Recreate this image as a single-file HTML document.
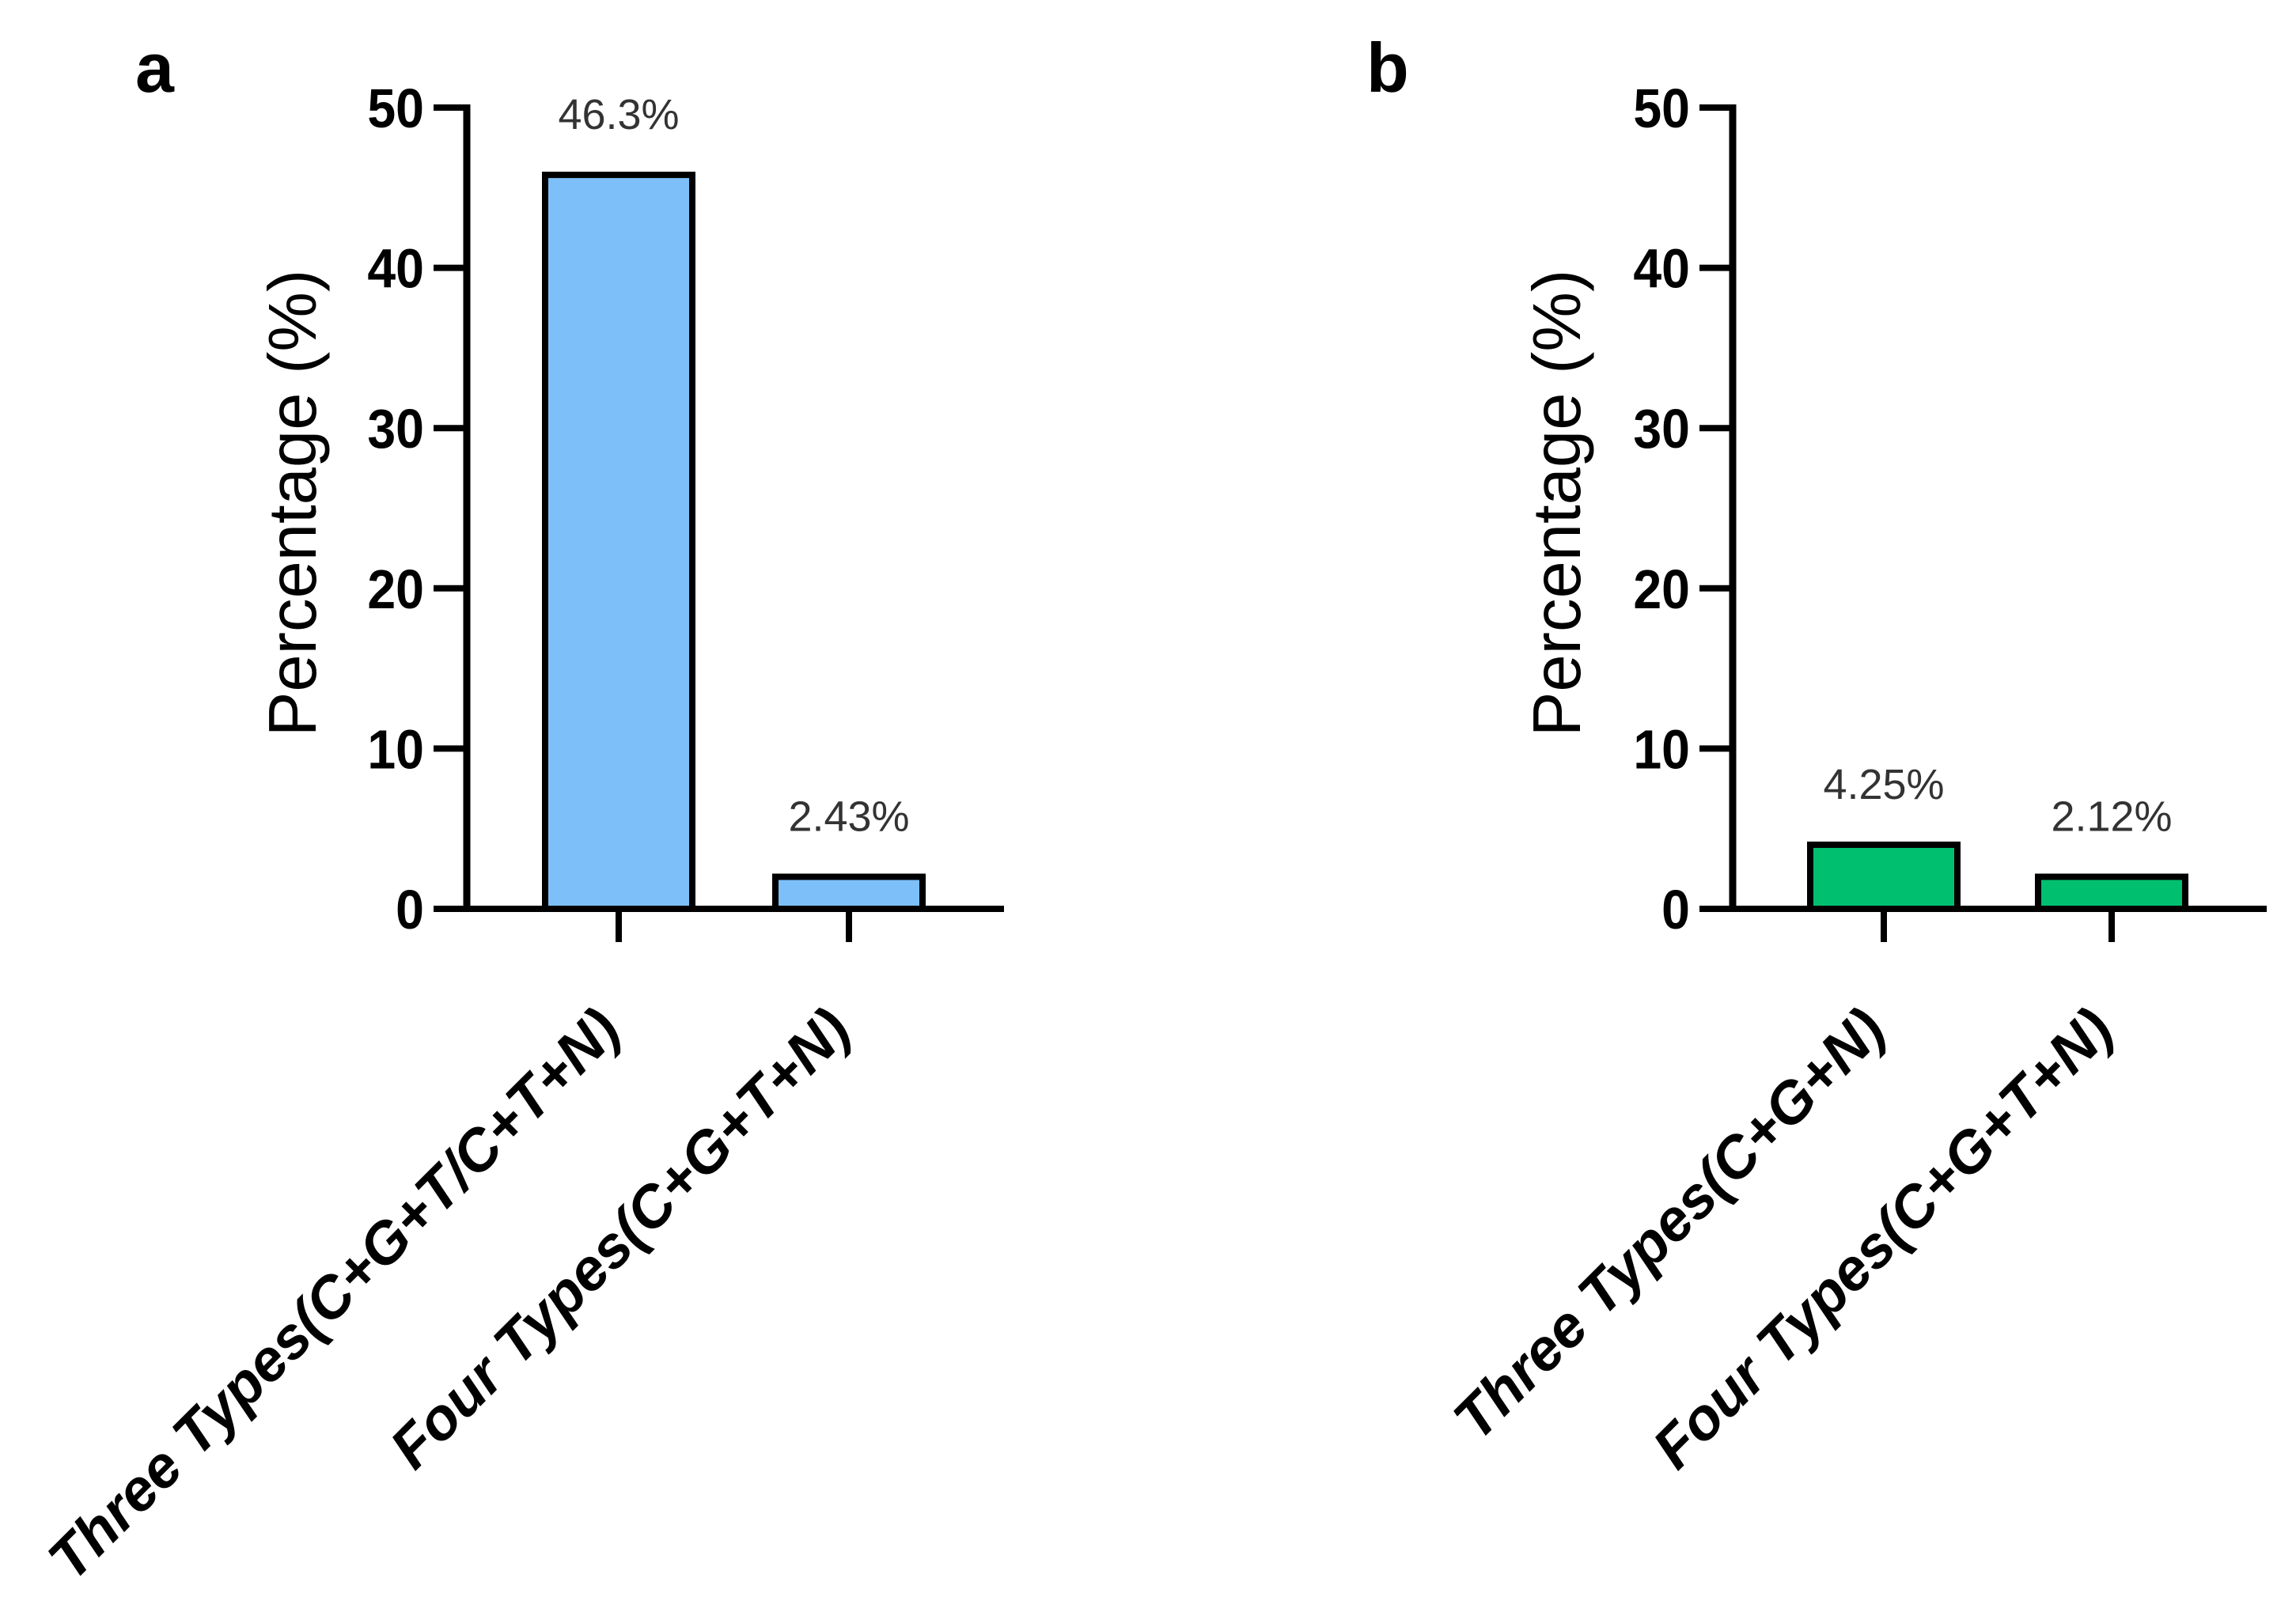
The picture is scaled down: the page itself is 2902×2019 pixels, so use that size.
<!DOCTYPE html>
<html><head><meta charset="utf-8">
<style>
html,body{margin:0;padding:0;background:#fff;}
svg{display:block;font-family:"Liberation Sans",Arial,sans-serif;}
</style></head>
<body>
<svg id="fig" width="2902" height="2019" viewBox="0 0 2902 2019"></svg>
<script>
const categoriesA = ["Three Types(C+G+T/C+T+N)", "Four Types(C+G+T+N)"];
const valuesA = [45.8, 2.0];
const labelsA = ["46.3%", "2.43%"];
const categoriesB = ["Three Types(C+G+N)", "Four Types(C+G+T+N)"];
const valuesB = [4.0, 2.0];
const labelsB = ["4.25%", "2.12%"];
const yTicks = [0, 10, 20, 30, 40, 50];

const NS = "http://www.w3.org/2000/svg";
const svg = document.getElementById("fig");
function mk(tag, attrs, parent, text) {
  const e = document.createElementNS(NS, tag);
  for (const k in attrs) e.setAttribute(k, attrs[k]);
  if (text !== undefined) e.textContent = text;
  (parent || svg).appendChild(e);
  return e;
}

function panel(cfg) {
  const g = mk("g", {});
  
  
  const y = v => cfg.y0 - (v / 50) * (cfg.y0 - cfg.y50);
  const letter = mk("text", {x: cfg.letterX, y: 116, "font-size": 88, "font-weight": "bold", fill: "#000"}, g, cfg.letter);
  
  
  const tt = mk("text", {x: 0, y: 0, "font-size": 85, fill: "#000", "text-anchor": "middle",
    transform: `translate(${cfg.titleX},636) rotate(-90)`}, g, "Percentage (%)");
  
  
  cfg.values.forEach((v, i) => {
    const cx = cfg.ticksX[i];
    const bar = mk("rect", {x: cx - cfg.bw / 2, y: y(v), width: cfg.bw, height: y(0) - y(v),
      fill: cfg.color, stroke: "#000", "stroke-width": 8}, g);
    
    
    const lab = mk("text", {x: cx, y: y(v) - 58, "font-size": 54, fill: "#333", "text-anchor": "middle"}, g, cfg.labels[i]);
    
    
    const tk = mk("line", {x1: cx, x2: cx, y1: cfg.y0, y2: 1191, stroke: "#000", "stroke-width": 8}, g);
    
    
    const xl = mk("text", {x: 0, y: 0, "font-size": 74, "font-weight": "bold", "font-style": "italic",
      fill: "#000", "text-anchor": "end", transform: `translate(${cx + 6},1306) rotate(-45)`}, g, cfg.cats[i]);
    
    
  });
  const ya = mk("line", {x1: cfg.axisX, x2: cfg.axisX, y1: cfg.y50 - 4, y2: cfg.y0 + 4, stroke: "#000", "stroke-width": 9}, g);
  
  
  const xa = mk("line", {x1: cfg.axisX - 42, x2: cfg.xEnd, y1: cfg.y0, y2: cfg.y0, stroke: "#000", "stroke-width": 8}, g);
  
  
  yTicks.forEach(t => {
    const l = mk("line", {x1: cfg.axisX - 42, x2: cfg.axisX, y1: y(t), y2: y(t), stroke: "#000", "stroke-width": 8}, g);
    
    
    const tl = mk("text", {x: 0, y: 0, "font-size": 70, "font-weight": "bold",
      fill: "#000", "text-anchor": "end", transform: `translate(${cfg.axisX - 54},${y(t) + 25}) scale(0.92,1)`}, g, String(t));
    
    
  });
}

panel({name: "panel-a", letter: "a", letterX: 171, titleX: 399, axisX: 590, xEnd: 1269,
  y0: 1149, y50: 136, ticksX: [782, 1073], bw: 186, color: "#7dbff8",
  values: valuesA, labels: labelsA, cats: categoriesA});
panel({name: "panel-b", letter: "b", letterX: 1727, titleX: 1997, axisX: 2190, xEnd: 2865,
  y0: 1149, y50: 136, ticksX: [2381, 2669], bw: 186, color: "#00c070",
  values: valuesB, labels: labelsB, cats: categoriesB});
</script>
</body></html>
